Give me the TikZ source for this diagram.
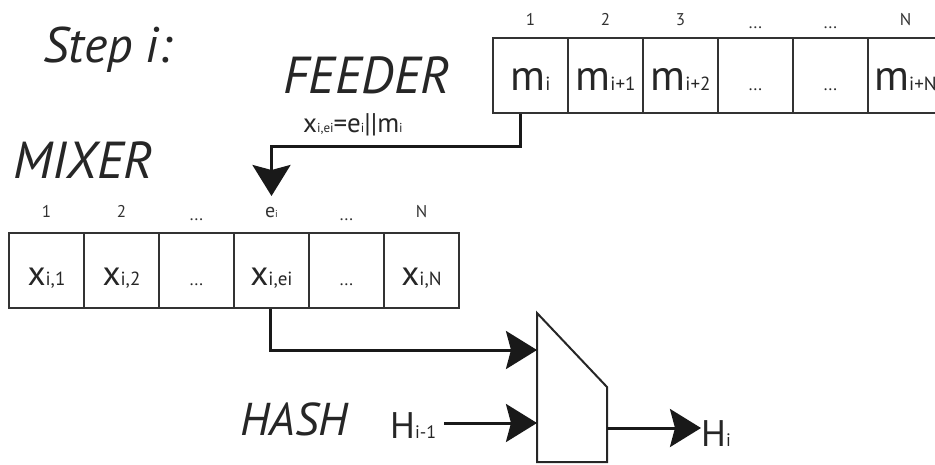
\documentclass[tikz,border=0pt]{standalone}
\usepackage{fontspec}
\setmainfont{PT Sans}
\usetikzlibrary{arrows.meta}
\newcommand\fs[1]{\fontsize{#1}{#1}\selectfont}
\newcommand\mm[1]{{\fs{43}m}{\fs{19}#1}}
\newcommand\xx[1]{{\fs{35}x}{\fs{19}#1}}
\tikzset{
  cellbox/.style={draw=black!80, line width=2pt, minimum width=75pt, minimum height=75pt,
    inner sep=0pt, text height=30pt, text depth=1pt, text=black!85},
  idx/.style={anchor=base, inner sep=0pt, font=\fs{17}, text=black!80},
  title/.style={anchor=base west, inner sep=0pt, font=\fs{52}\itshape, text=black!85},
  conn/.style={line width=3pt, black!90},
  tip/.style={-{Stealth[length=31pt,width=38pt,inset=5pt]}},
  hashbox/.style={draw=black!85, line width=2pt, line join=miter}
}
\begin{document}
\begin{tikzpicture}[x=1pt,y=-1pt]
\useasboundingbox (0,0) rectangle (935,464);
% titles
\node[title, font=\fs{50}\itshape] (step) at (43,62) {Step i:};
\node[title] (feeder) at (283,93) {FEEDER};
\node[title] (mixer) at (13,178) {MIXER};
\node[title, font=\fs{46}\itshape] (hash) at (240,435) {HASH};
% feeder row
\node[cellbox] (f1) at (530.5,75.5) {\mm{i}};
\node[cellbox] (f2) at (605.5,75.5) {\mm{i+1}};
\node[cellbox] (f3) at (680.5,75.5) {\mm{i+2}};
\node[cellbox] (f4) at (755.5,75.5) {\fs{17}...};
\node[cellbox] (f5) at (830.5,75.5) {\fs{17}...};
\node[cellbox] (f6) at (905.5,75.5) {\mm{i+N}};
\node[idx] (fi1) at (530.5,25) {1};
\node[idx] (fi2) at (605.5,25) {2};
\node[idx] (fi3) at (680.5,25) {3};
\node[idx] (fi4) at (755.5,28) {...};
\node[idx] (fi5) at (830.5,28) {...};
\node[idx] (fi6) at (905.5,25) {N};
% mixer row
\node[cellbox] (m1) at (46.5,270.5) {\xx{i,1}};
\node[cellbox] (m2) at (121.5,270.5) {\xx{i,2}};
\node[cellbox] (m3) at (196.5,270.5) {\fs{17}...};
\node[cellbox] (m4) at (271.5,270.5) {\xx{i,ei}};
\node[cellbox] (m5) at (346.5,270.5) {\fs{17}...};
\node[cellbox] (m6) at (421.5,270.5) {\xx{i,N}};
\node[idx] (mi1) at (46.5,217) {1};
\node[idx] (mi2) at (121.5,217) {2};
\node[idx] (mi3) at (196.5,220) {...};
\node[idx] (mi4) at (271.5,217) {{\fs{20}e}{\fs{10}i}};
\node[idx] (mi5) at (346.5,220) {...};
\node[idx] (mi6) at (421.5,217) {N};
% feeder label
\node[anchor=base west, inner sep=0pt, text=black!85] (flab) at (303,132)
  {{\fs{27}x}{\fs{13}i,ei}{\fs{27}=e}{\fs{13}i}{\fs{27}||m}{\fs{13}i}};
% hash box
\coordinate (hA) at (537,313);
\coordinate (hB) at (607,387);
\coordinate (hC) at (607,462);
\coordinate (hD) at (537,462);
\draw[hashbox] (hA) -- (hB) -- (hC) -- (hD) -- cycle;
\coordinate (hin1) at (537,350);
\coordinate (hin2) at (537,423);
\coordinate (hout) at (607,428);
\coordinate (etip) at (271.5,196);
\node[anchor=base west, inner sep=0pt, text=black!85] (hprev) at (390,438) {{\fs{37}H}{\fs{18}i-1}};
\node[anchor=base west, inner sep=0pt, text=black!85] (hcur) at (701,446) {{\fs{37}H}{\fs{18}i}};
% connectors
\draw[conn, tip] ([xshift=-10pt]f1.south) -- ++(0,32) -| (etip);
\draw[conn, tip] ([xshift=-1.5pt]m4.south) |- (hin1);
\draw[conn, tip] (hprev.east |- hin2) ++(8,0) -- (hin2);
\draw[conn, tip] (hout) -- (hout -| hcur.west);
\end{tikzpicture}
\end{document}
